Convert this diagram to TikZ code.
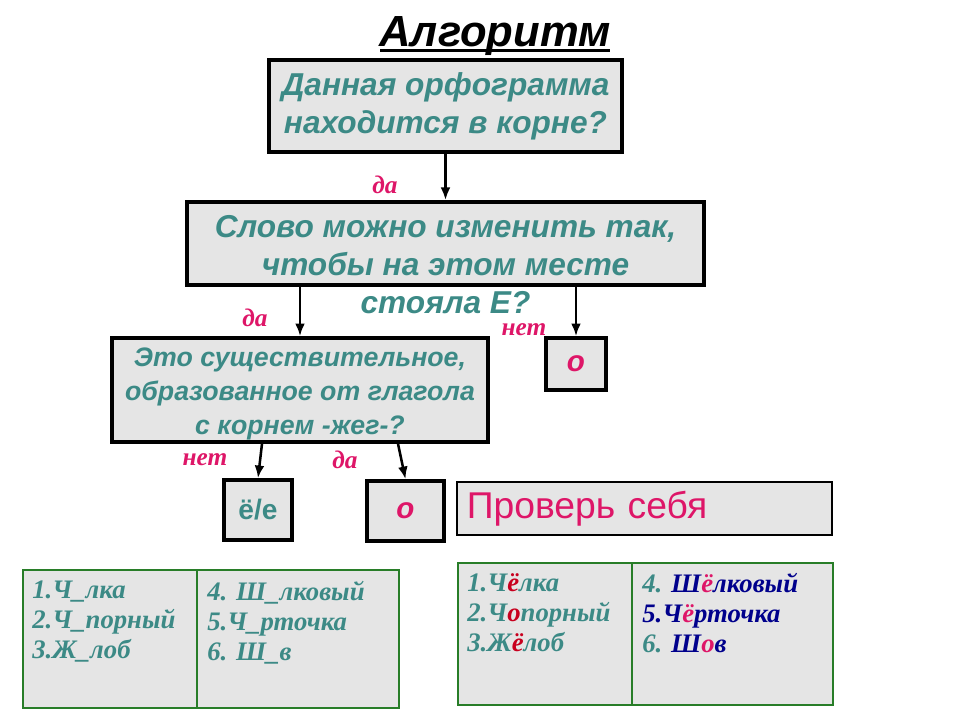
\documentclass[tikz,border=0pt]{standalone}
\usepackage{fontspec}
\setmainfont{Liberation Serif}
\setsansfont{Liberation Sans}
\usetikzlibrary{arrows.meta,calc}
\definecolor{qteal}{RGB}{60,138,134}
\definecolor{qpink}{RGB}{222,22,104}
\definecolor{qred}{RGB}{200,0,30}
\definecolor{qblue}{RGB}{0,0,140}
\definecolor{qgreen}{RGB}{40,125,40}
\definecolor{boxgray}{RGB}{229,229,229}
\newcommand{\ered}[1]{\textcolor{qred}{#1}}
\newcommand{\epink}[1]{\textcolor{qpink}{#1}}
\newcommand{\eblue}[1]{\textcolor{qblue}{#1}}
\tikzset{
  qbox/.style={draw=black, line width=2.5pt, fill=boxgray, inner sep=0pt},
  qtext/.style={text=qteal, align=center, font=\sffamily\bfseries\itshape\fontsize{22.5}{27}\selectfont},
  ans/.style={text=qpink, font=\sffamily\bfseries\itshape\fontsize{21}{24}\selectfont},
  lbl/.style={text=qpink, font=\rmfamily\bfseries\itshape\fontsize{18}{20}\selectfont},
  arr/.style={line width=1.8pt, -{Latex[length=9pt,width=7pt]}},
  cell/.style={draw=qgreen, line width=1.5pt, fill=boxgray, inner sep=0pt, anchor=north west},
  list/.style={anchor=north west, align=left, inner sep=0pt, text=qteal,
    font=\rmfamily\bfseries\itshape\fontsize{19}{21.3}\selectfont}
}
\begin{document}
\begin{tikzpicture}[x=0.025cm,y=-0.025cm]
\useasboundingbox (0,0) rectangle (960,720);
\node (title) [font=\sffamily\bfseries\itshape\fontsize{31}{36}\selectfont] at (495,36) {Алгоритм};
\draw [line width=2pt] ($(title.base west)+(6,4)$) -- ($(title.base east)+(-6,4)$);

\node (b1) [qbox, qtext, minimum width=8.83cm, minimum height=2.3cm] at (445.5,106)
  {Данная орфограмма\\находится в корне?};
\node (b2) [qbox, minimum width=12.93cm, minimum height=2.08cm] at (445.5,243.5) {};
\node (b2t) [qtext] at (445.5,265) {Слово можно изменить так,\\чтобы на этом месте\\стояла Е?};
\draw [arr] (b1.south) -- (b2.north);
\node (l1) [lbl] at (385,185) {да};

\node (b3) [qbox, minimum width=9.4cm, minimum height=2.6cm] at (300,390) {};
\node (b3t) [qtext, font=\sffamily\bfseries\itshape\fontsize{19}{24}\selectfont] at (300,394)
  {Это существительное,\\образованное от глагола\\с корнем -жег-?};
\node (o1) [qbox, ans, minimum width=1.5cm, minimum height=1.3cm] at (576,364) {о};
\draw [arr] (b2.south -| b3.north) -- (b3.north);
\draw [arr] (b2.south -| o1.north) -- (o1.north);
\node (l2) [lbl] at (255,318) {да};
\node (l3) [lbl] at (524,330) {нет};

\node (ee) [qbox, minimum width=1.7cm, minimum height=1.5cm, text=qteal,
  font=\sffamily\bfseries\fontsize{20}{22}\selectfont] at (258,510) {ё/е};
\node (o2) [qbox, ans, minimum width=1.93cm, minimum height=1.5cm] at (405.5,511) {о};
\draw [arr] (b3.south -| 262,0) -- (ee.north);
\draw [arr] (b3.south -| 398,0) -- (o2.north);
\node (l4) [lbl] at (205,460) {нет};
\node (l5) [lbl] at (345,460) {да};

\node (chk) [qbox, line width=1.8pt, minimum width=9.38cm, minimum height=1.33cm,
  inner xsep=0.25cm, text width=8.88cm, align=left, text=qpink,
  font=\sffamily\fontsize{26.5}{29}\selectfont] at (644.5,508.5) {Проверь себя};

% task table
\node (t1) [cell, minimum width=4.35cm, minimum height=3.45cm] at (22,569) {};
\node (t2) [cell, minimum width=5.05cm, minimum height=3.45cm] at (196,569) {};
\node (t1t) [list] at (32,581) {1.Ч\_лка\\2.Ч\_порный\\3.Ж\_лоб};
\node (t2t) [list] at (207,581) {4. Ш\_лковый\\5.Ч\_рточка\\6. Ш\_в};

% answer table
\node (a1) [cell, minimum width=4.35cm, minimum height=3.55cm] at (457,562) {};
\node (a2) [cell, minimum width=5.03cm, minimum height=3.55cm] at (631,562) {};
\node (a1t) [list] at (467,573) {1.Ч\ered{ё}лка\\2.Ч\ered{о}порный\\3.Ж\ered{ё}лоб};
\node (a2t) [list] at (642,573)
  {4. \eblue{Ш}\epink{ё}\eblue{лковый}\\\eblue{5.Ч}\epink{ё}\eblue{рточка}\\6. \eblue{Ш}\epink{о}\eblue{в}};
\end{tikzpicture}
\end{document}
